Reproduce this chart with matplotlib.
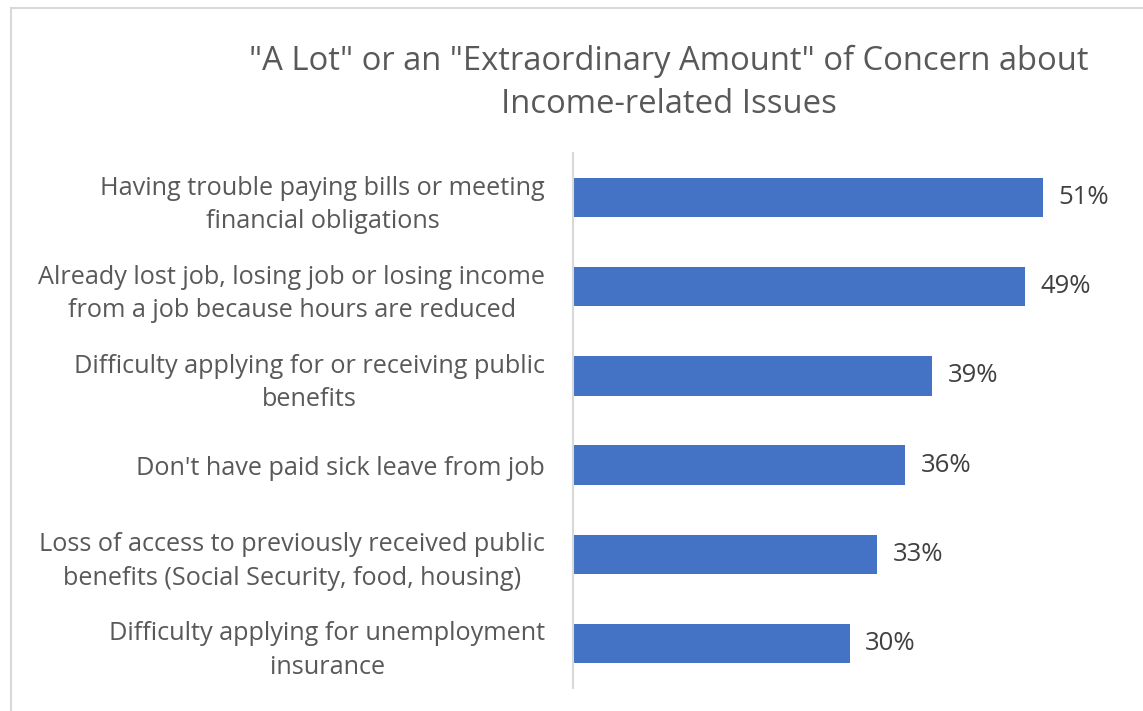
import matplotlib.pyplot as plt
from matplotlib.lines import Line2D

# Survey results: share reporting "a lot" or "an extraordinary amount" of concern
categories = [
    "Having trouble paying bills or meeting\nfinancial obligations",
    "Already lost job, losing job or losing income\nfrom a job because hours are reduced",
    "Difficulty applying for or receiving public\nbenefits",
    "Don't have paid sick leave from job",
    "Loss of access to previously received public\nbenefits (Social Security, food, housing)",
    "Difficulty applying for unemployment\ninsurance",
]
values = [51, 49, 39, 36, 33, 30]

BAR_COLOR = "#4472C4"
TEXT_COLOR = "#595959"
VALUE_COLOR = "#404040"

plt.rcParams['font.family'] = ['Open Sans', 'DejaVu Sans']

fig = plt.figure(figsize=(11.43, 7.11), dpi=100)
ax = fig.add_axes([573 / 1143, 1 - 688 / 711, (1126 - 573) / 1143, (688 - 153) / 711])

ypos = list(range(len(categories)))
ax.barh(ypos, values, height=0.44, color=BAR_COLOR)
ax.set_xlim(0, 60)
ax.set_ylim(len(categories) - 0.5, -0.5)

for y, v in zip(ypos, values):
    ax.text(v + 1.7, y, f"{v}%", va="center", ha="left",
            fontsize=18.5, color=VALUE_COLOR)

ax.set_yticks(ypos)
ax.set_yticklabels(categories, fontsize=18.2, color=TEXT_COLOR,
                   linespacing=1.45, ha="right", multialignment="center")
ax.tick_params(axis="y", length=0, pad=20)
ax.set_xticks([])

for side in ["top", "right", "bottom"]:
    ax.spines[side].set_visible(False)
ax.spines["left"].set_color("#D9D9D9")
ax.spines["left"].set_linewidth(1.5)

fig.text(669 / 1143, 1 - 83 / 711,
         "\"A Lot\" or an \"Extraordinary Amount\" of Concern about\nIncome-related Issues",
         ha="center", va="center", fontsize=23.6, color=TEXT_COLOR, linespacing=1.43)

# light chart-area border on the top and left edges
fig.add_artist(Line2D([11 / 1143, 11 / 1143], [0, 1 - 8 / 711],
                      transform=fig.transFigure, color="#D9D9D9", lw=1.5))
fig.add_artist(Line2D([11 / 1143, 1], [1 - 8 / 711, 1 - 8 / 711],
                      transform=fig.transFigure, color="#D9D9D9", lw=1.5))

fig.savefig("out.png", dpi=100)
